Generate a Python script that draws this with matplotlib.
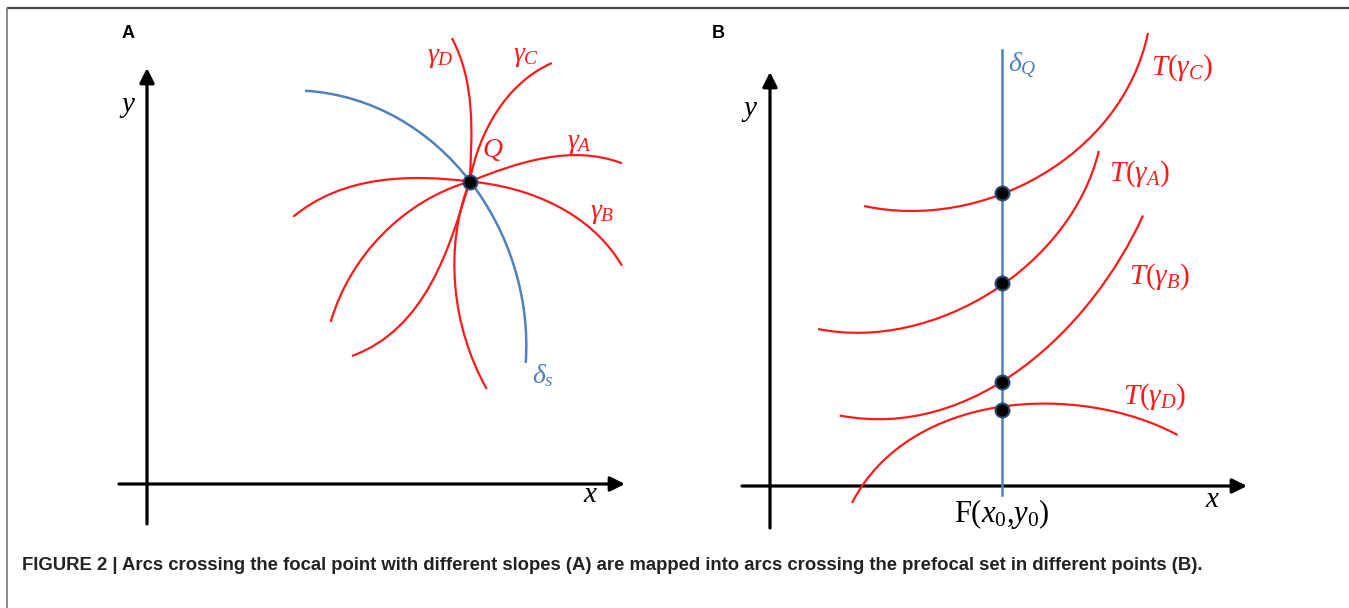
import numpy as np
import matplotlib
matplotlib.use("Agg")
import matplotlib.pyplot as plt
from matplotlib.path import Path
from matplotlib.patches import PathPatch

plt.rcParams['mathtext.fontset'] = 'custom'
plt.rcParams['mathtext.rm'] = 'Liberation Serif'
plt.rcParams['mathtext.it'] = 'Liberation Serif:italic'
plt.rcParams['mathtext.bf'] = 'Liberation Serif:bold'

# ---------------- data (pixel space) ----------------
# Panel A: focal point Q and the arcs through it (each arc = two branches leaving Q)
focal_Q = (469.6, 181.5)
delta_s = [(305, 90.7), (385.7, 114), (439, 145), (469.6, 181.5), (492.8, 214.5), (514, 270), (525.7, 363)]
gamma_D_up = [(469.6, 181.5), (471.4, 138.4), (467.9, 86.5), (451.8, 38)]
gamma_D_down = [(469.6, 181.5), (457, 225), (455.5, 250), (456.7, 300), (466.7, 343), (486.7, 389)]
gamma_C_up = [(469.6, 181.5), (485.7, 131.5), (510.7, 93.4), (551.8, 63)]
gamma_C_down = [(469.6, 181.5), (453, 233), (439, 266), (423, 300), (390, 333), (352, 356)]
gamma_A_right = [(469.6, 181.5), (492.8, 173), (546, 157.4), (585.7, 155.7), (622, 163.3)]
gamma_A_left = [(469.6, 181.5), (426.7, 200), (380, 236.7), (346.7, 283), (330.7, 322)]
gamma_B_right = [(469.6, 181.5), (528.6, 193.8), (582, 221.5), (622, 265.7)]
gamma_B_left = [(469.6, 181.5), (421, 178), (350, 186.9), (293.3, 216.7)]
labels_A = [r"$\gamma_D$", r"$\gamma_C$", r"$\gamma_A$", r"$\gamma_B$"]
labels_A_pos = [(440, 56), (526, 55), (579, 142), (602, 212)]

# Panel B: prefocal set delta_Q and the image arcs crossing it
prefocal_x = 1002
delta_Q = [(1002, 50), (1002, 495)]
T_gamma_C = [(864, 206), (908.6, 212), (1002, 193), (1083, 145), (1148, 33)]
T_gamma_A = [(818, 329), (864.5, 334), (1002, 283), (1063.6, 227.6), (1098.8, 151)]
T_gamma_B = [(839.7, 415.5), (891, 419), (1002, 382), (1082.7, 310), (1143, 215.5)]
T_gamma_D = [(852, 503), (899, 445), (1002, 410), (1059.7, 401.7), (1177.6, 435)]
crossing_y = [193, 283, 382, 410]
labels_B = [r"$T(\gamma_C)$", r"$T(\gamma_A)$", r"$T(\gamma_B)$", r"$T(\gamma_D)$"]
labels_B_pos = [(1182, 68), (1140, 174), (1160, 277), (1155, 397)]

caption = ("FIGURE 2 | Arcs crossing the focal point with different slopes (A) are mapped "
           "into arcs crossing the prefocal set in different points (B).")

RED = '#ff1a1a'
BLUE = '#4f81bd'


def bezier_path(pts):
    """Least-squares Bezier (endpoints fixed) through the read points."""
    pts = np.asarray(pts, float)
    d = np.r_[0, np.cumsum(np.hypot(*np.diff(pts, axis=0).T))]
    t = d / d[-1]
    P0, P3 = pts[0], pts[-1]
    if len(pts) == 3:
        ti = t[1]
        b0, b1, b2 = (1 - ti) ** 2, 2 * ti * (1 - ti), ti ** 2
        C = (pts[1] - b0 * P0 - b2 * P3) / b1
        return Path([P0, C, P3], [Path.MOVETO, Path.CURVE3, Path.CURVE3])
    ti = t[1:-1]
    b0 = (1 - ti) ** 3
    b1 = 3 * ti * (1 - ti) ** 2
    b2 = 3 * ti ** 2 * (1 - ti)
    b3 = ti ** 3
    A = np.column_stack([b1, b2])
    R = pts[1:-1] - np.outer(b0, P0) - np.outer(b3, P3)
    sol, *_ = np.linalg.lstsq(A, R, rcond=None)
    P1, P2 = sol
    return Path([P0, P1, P2, P3], [Path.MOVETO] + [Path.CURVE4] * 3)


def curve(ax, pts, color, lw=1.6, z=2):
    ax.add_patch(PathPatch(bezier_path(pts), fill=False, edgecolor=color, lw=lw,
                           capstyle='butt', zorder=z))


def arrow(ax, start, tip):
    ax.annotate('', xy=tip, xytext=start,
                arrowprops=dict(arrowstyle='-|>', lw=2.3, color='black',
                                mutation_scale=22, shrinkA=0, shrinkB=0),
                zorder=1)


fig = plt.figure(figsize=(13.49, 6.08), dpi=100)
ax = fig.add_axes([0, 0, 1, 1])
ax.set_xlim(0, 1349)
ax.set_ylim(608, 0)
ax.axis('off')

# border
ax.plot([7, 1349], [8, 8], color='#444444', lw=1.6, solid_capstyle='butt')
ax.plot([7, 7], [8, 608], color='#777777', lw=1.2, solid_capstyle='butt')

# ---------------- Panel A ----------------
ax.text(128, 34, 'A', fontsize=13, fontweight='bold', family='Liberation Sans',
        ha='center', va='center')
arrow(ax, (147, 524), (147, 68))
arrow(ax, (119, 484), (625, 484))
ax.text(128, 106, r"$y$", fontsize=21, ha='center', va='center')
ax.text(591, 494, r"$x$", fontsize=21, ha='center', va='center')

for pts in (gamma_D_up, gamma_D_down, gamma_C_up, gamma_C_down,
            gamma_A_right, gamma_A_left, gamma_B_right, gamma_B_left):
    curve(ax, pts, RED)
curve(ax, delta_s, BLUE, lw=1.8, z=1.5)
for lab, (x, y) in zip(labels_A, labels_A_pos):
    ax.text(x, y, lab, fontsize=20, color=RED, ha='center', va='center')
ax.text(493, 149, r"$Q$", fontsize=20, color=RED, ha='center', va='center')
ax.text(543, 375, r"$\delta_s$", fontsize=20, color=BLUE, ha='center', va='center')
ax.plot([focal_Q[0]], [focal_Q[1]], 'o', ms=10, mfc='black', mec='#2b4a6f', mew=1.5, zorder=5)

# ---------------- Panel B ----------------
ax.text(718, 33, 'B', fontsize=13, fontweight='bold', family='Liberation Sans',
        ha='center', va='center')
arrow(ax, (770, 528), (770, 72))
arrow(ax, (742, 486), (1247, 486))
ax.text(750, 110, r"$y$", fontsize=21, ha='center', va='center')
ax.text(1213, 499, r"$x$", fontsize=21, ha='center', va='center')

ax.plot([p[0] for p in delta_Q], [p[1] for p in delta_Q], color=BLUE, lw=1.8, zorder=1.5)
for pts in (T_gamma_C, T_gamma_A, T_gamma_B, T_gamma_D):
    curve(ax, pts, RED)
for lab, (x, y) in zip(labels_B, labels_B_pos):
    ax.text(x, y, lab, fontsize=21, color=RED, ha='center', va='center')
ax.text(1022, 66, r"$\delta_Q$", fontsize=20, color=BLUE, ha='center', va='center')
ax.text(1002, 514, r"$\mathrm{F}(x_0{,}y_0)$", fontsize=22, color='black',
        ha='center', va='center')
ax.plot([prefocal_x] * len(crossing_y), crossing_y, 'o', ms=10, mfc='black',
        mec='#2b4a6f', mew=1.5, zorder=5)

# caption
ax.text(22, 566, caption, fontsize=13.3, fontweight='bold',
        family='Liberation Sans', ha='left', va='center', color='#222222')

fig.savefig('out.png', dpi=100)
